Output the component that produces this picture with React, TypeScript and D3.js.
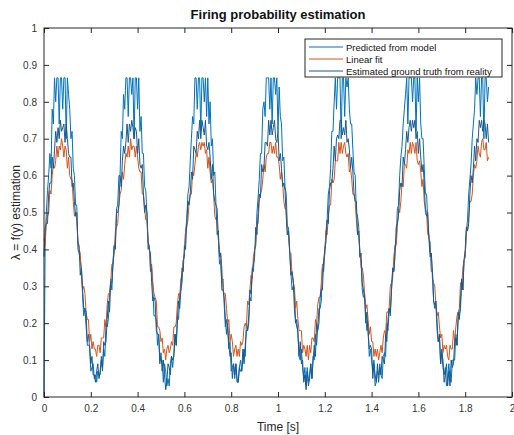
import React, { useEffect, useRef } from 'react';
import * as d3 from 'd3';

// sampling step of the recordings [s]
const dt = 0.005;

// Predicted from model (saturates at ~0.865)
const predicted = [
  0, .42, .50, .56, .60, .66, .62, .78, .74, .865, .80, .865, .865, .74, .865, .865, .78, .865, .865, .70, .865, .82, .78, .70, .72, .62,
  .60, .52, .52, .40, .39, .37, .35, .27, .22, .24, .19, .15, .17, .13, .07, .08, .09, .05, .06, .04, .07, .06, .06, .11, .08, .13, .11, .20, .19, .21, .27, .32, .29, .37,
  .41, .42, .51, .52, .60, .60, .72, .70, .82, .78, .865, .865, .76, .865, .865, .82, .865, .70, .865, .865, .78, .865, .72, .76, .66, .66,
  .57, .56, .49, .40, .41, .34, .35, .30, .22, .22, .21, .14, .17, .10, .10, .10, .04, .09, .07, .03, .05, .03, .09, .11, .08, .12, .17, .14, .21, .21, .28, .29, .31, .37,
  .38, .45, .48, .55, .57, .64, .70, .76, .74, .865, .865, .78, .865, .865, .72, .865, .865, .80, .865, .76, .865, .74, .80, .68, .70, .60,
  .61, .52, .51, .43, .36, .37, .31, .32, .25, .19, .21, .18, .13, .15, .07, .08, .09, .05, .09, .05, .04, .08, .10, .07, .10, .13, .11, .20, .18, .22, .27, .26, .35, .34,
  .40, .41, .50, .54, .59, .66, .66, .78, .80, .76, .865, .865, .865, .78, .865, .74, .865, .865, .82, .865, .72, .84, .76, .74, .64, .65,
  .57, .55, .46, .46, .39, .34, .29, .30, .28, .21, .19, .18, .11, .10, .13, .08, .05, .08, .03, .08, .04, .06, .09, .05, .11, .10, .17, .14, .19, .24, .24, .26, .35, .34,
  .39, .45, .48, .55, .57, .62, .72, .72, .80, .865, .78, .865, .865, .865, .70, .865, .865, .76, .865, .84, .865, .78, .74, .74, .67, .61,
  .60, .50, .49, .46, .38, .37, .29, .27, .28, .22, .18, .20, .11, .13, .10, .07, .10, .03, .04, .07, .06, .09, .06, .05, .11, .12, .11, .20, .18, .24, .22, .29, .34, .34,
  .41, .42, .51, .52, .60, .65, .68, .74, .78, .82, .865, .74, .865, .865, .865, .80, .865, .865, .72, .865, .80, .865, .74, .70, .70, .62,
  .55, .55, .48, .43, .42, .34, .34, .26, .25, .25, .18, .15, .16, .09, .13, .08, .06, .08, .03, .05, .09, .05, .04, .10, .10, .10, .17, .14, .21, .22, .24, .32, .29, .37,
  .38, .45, .48, .55, .59, .63, .70, .74, .78, .865, .82, .865, .865, .76, .865, .865, .70, .865, .865, .80, .84,
];

// Linear fit
const linearFit = [
  .43, .41, .48, .49, .50, .56, .55, .60, .63, .62, .64, .68, .65, .68, .67, .70, .68, .65, .68, .67,
  .62, .65, .60, .59, .59, .53, .49, .50, .48, .42, .40, .39, .33, .29, .30, .28, .23, .21, .21, .15,
  .17, .13, .15, .13, .13, .11, .14, .14, .12, .16, .16, .16, .21, .19, .25, .28, .28, .31, .36, .36,
  .39, .45, .46, .47, .52, .55, .56, .61, .59, .63, .66, .65, .68, .65, .70, .67, .68, .68, .65, .68,
  .65, .62, .61, .61, .55, .55, .51, .48, .48, .42, .41, .35, .36, .31, .28, .27, .26, .19, .19, .18,
  .15, .16, .12, .13, .10, .13, .14, .12, .13, .15, .14, .19, .19, .20, .25, .28, .27, .32, .33, .37,
  .39, .45, .46, .48, .53, .55, .55, .61, .60, .63, .66, .65, .68, .69, .67, .69, .68, .69, .66, .67,
  .62, .65, .61, .58, .59, .55, .49, .48, .48, .43, .39, .39, .35, .29, .28, .28, .24, .20, .21, .15,
  .17, .15, .11, .13, .14, .11, .13, .11, .15, .14, .15, .19, .20, .19, .26, .25, .29, .33, .32, .38,
  .40, .42, .47, .47, .53, .55, .56, .59, .63, .61, .65, .66, .66, .69, .69, .66, .68, .66, .69, .65,
  .65, .63, .59, .61, .58, .53, .51, .51, .44, .44, .39, .39, .33, .31, .30, .24, .26, .21, .18, .18,
  .18, .12, .14, .13, .11, .14, .10, .14, .12, .16, .16, .15, .21, .20, .25, .27, .27, .31, .36, .36,
  .39, .45, .44, .49, .52, .52, .59, .58, .59, .64, .64, .64, .69, .66, .69, .66, .68, .69, .66, .65,
  .66, .61, .62, .59, .55, .55, .53, .48, .44, .44, .40, .35, .35, .33, .28, .24, .25, .21, .17, .19,
  .15, .15, .11, .13, .11, .13, .10, .12, .14, .12, .16, .18, .17, .23, .23, .24, .30, .31, .32, .38,
  .41, .41, .46, .51, .50, .53, .58, .57, .63, .63, .62, .67, .66, .69, .66, .69, .68, .66, .69, .64,
  .63, .64, .61, .57, .59, .53, .51, .50, .44, .44, .39, .39, .32, .31, .30, .25, .22, .23, .19, .16,
  .17, .12, .14, .13, .14, .11, .10, .14, .13, .13, .18, .15, .19, .22, .23, .24, .31, .30, .35, .37,
  .38, .45, .45, .49, .53, .53, .55, .60, .63, .62, .64, .68, .66, .65, .69, .70, .67, .67, .69, .64,
  .65,
];

// Estimated ground truth from reality
const groundTruth = [
  .38, .46, .47, .47, .55, .58, .58, .65, .62, .67, .72, .69, .73, .70, .75, .72, .73, .74, .69, .74,
  .70, .66, .65, .65, .57, .58, .53, .49, .50, .42, .41, .33, .35, .29, .24, .24, .23, .14, .14, .14,
  .09, .11, .06, .06, .04, .07, .09, .05, .07, .10, .07, .15, .14, .15, .21, .26, .23, .31, .31, .36,
  .41, .40, .50, .50, .52, .60, .57, .64, .68, .66, .69, .74, .69, .74, .72, .75, .73, .70, .73, .72,
  .66, .70, .63, .62, .63, .55, .50, .52, .50, .42, .40, .39, .31, .26, .27, .26, .18, .17, .17, .09,
  .12, .07, .10, .06, .02, .04, .09, .08, .06, .11, .10, .11, .17, .14, .21, .26, .24, .29, .35, .34,
  .41, .40, .47, .53, .52, .55, .61, .59, .68, .67, .66, .72, .70, .75, .70, .75, .73, .71, .75, .68,
  .67, .69, .65, .59, .63, .55, .53, .52, .44, .45, .38, .39, .29, .29, .27, .21, .17, .20, .14, .11,
  .12, .05, .09, .06, .09, .04, .04, .08, .07, .07, .13, .09, .14, .18, .18, .20, .29, .28, .34, .36,
  .38, .46, .44, .50, .55, .54, .63, .61, .62, .69, .69, .68, .75, .71, .75, .71, .73, .75, .70, .69,
  .72, .64, .66, .62, .57, .58, .56, .49, .44, .45, .40, .33, .34, .32, .24, .20, .21, .17, .11, .15,
  .09, .10, .04, .06, .02, .07, .03, .05, .09, .05, .10, .14, .11, .20, .18, .20, .27, .29, .29, .37,
  .40, .42, .48, .47, .56, .58, .58, .62, .68, .64, .70, .71, .70, .75, .75, .71, .73, .71, .75, .69,
  .70, .67, .62, .65, .61, .55, .53, .53, .44, .45, .38, .39, .31, .29, .27, .20, .23, .17, .13, .14,
  .13, .05, .09, .06, .04, .09, .04, .08, .06, .11, .10, .09, .17, .15, .21, .24, .23, .29, .35, .34,
  .38, .46, .47, .49, .56, .58, .57, .65, .63, .67, .72, .69, .73, .75, .72, .75, .73, .75, .70, .72,
  .66, .70, .65, .61, .63, .58, .50, .49, .50, .43, .38, .39, .34, .26, .24, .26, .20, .15, .17, .09,
  .12, .10, .04, .06, .09, .03, .07, .03, .10, .08, .09, .15, .16, .14, .23, .21, .26, .32, .29, .37,
  .40, .46, .45, .47, .55, .60, .58, .62, .68, .64, .70, .69, .75, .73, .75, .72, .75, .74, .70, .74,
  .69,
];

const xTicks = [0, 0.2, 0.4, 0.6, 0.8, 1, 1.2, 1.4, 1.6, 1.8, 2];
const yTicks = [0, 0.1, 0.2, 0.3, 0.4, 0.5, 0.6, 0.7, 0.8, 0.9, 1];

const seriesNames = ['Predicted from model', 'Linear fit', 'Estimated ground truth from reality'];
const seriesColors = ['#0072BD', '#D95319', '#165a94'];

const width = 514;
const height = 435;
const margin = { left: 44, right: 2, top: 28, bottom: 38 };
const font = '"Liberation Sans", Arial, Helvetica, sans-serif';
const axisColor = '#262626';

export default function App() {
  const ref = useRef<SVGSVGElement>(null);

  useEffect(() => {
    const svg = d3.select(ref.current);
    svg.selectAll('*').remove();

    const x = d3.scaleLinear().domain([0, 2]).range([margin.left, width - margin.right]);
    const y = d3.scaleLinear().domain([0, 1]).range([height - margin.bottom, margin.top]);
    const x0 = margin.left;
    const x1 = width - margin.right;
    const y0 = height - margin.bottom;
    const y1 = margin.top;

    const data = [predicted, linearFit, groundTruth];
    const line = d3
      .line<number>()
      .x((d, i) => x(i * dt))
      .y((d) => y(d));

    const plot = svg.append('g');
    data.forEach((values, k) => {
      plot
        .append('path')
        .datum(values)
        .attr('fill', 'none')
        .attr('stroke', seriesColors[k])
        .attr('stroke-width', 1)
        .attr('stroke-linejoin', 'round')
        .attr('d', line);
    });

    // axes: MATLAB style, ticks pointing inwards on all four sides
    const fmt = (d: d3.NumberValue) => String(+d);
    svg
      .append('g')
      .attr('transform', `translate(0,${y0})`)
      .call(d3.axisBottom(x).tickValues(xTicks).tickFormat(fmt).tickSizeInner(-5).tickSizeOuter(0).tickPadding(8));
    svg
      .append('g')
      .attr('transform', `translate(0,${y1})`)
      .call(d3.axisTop(x).tickValues(xTicks).tickFormat(() => '').tickSizeInner(-5).tickSizeOuter(0));
    svg
      .append('g')
      .attr('transform', `translate(${x0},0)`)
      .call(d3.axisLeft(y).tickValues(yTicks).tickFormat(fmt).tickSizeInner(-5).tickSizeOuter(0).tickPadding(7));
    svg
      .append('g')
      .attr('transform', `translate(${x1},0)`)
      .call(d3.axisRight(y).tickValues(yTicks).tickFormat(() => '').tickSizeInner(-5).tickSizeOuter(0));

    svg.selectAll('.domain').remove();
    svg.selectAll('.tick line').attr('stroke', axisColor);
    svg
      .selectAll('.tick text')
      .attr('fill', '#333')
      .style('font-family', font)
      .style('font-size', '10px');

    svg
      .append('rect')
      .attr('x', x0)
      .attr('y', y1)
      .attr('width', x1 - x0)
      .attr('height', y0 - y1)
      .attr('fill', 'none')
      .attr('stroke', axisColor)
      .attr('stroke-width', 1);

    // title and axis labels
    svg
      .append('text')
      .attr('x', (x0 + x1) / 2)
      .attr('y', 19)
      .attr('text-anchor', 'middle')
      .style('font-family', font)
      .style('font-size', '13px')
      .style('font-weight', 'bold')
      .attr('fill', '#111')
      .text('Firing probability estimation');

    svg
      .append('text')
      .attr('x', (x0 + x1) / 2)
      .attr('y', 431)
      .attr('text-anchor', 'middle')
      .style('font-family', font)
      .style('font-size', '12px')
      .attr('fill', '#262626')
      .text('Time [s]');

    svg
      .append('text')
      .attr('transform', `translate(20,${(y0 + y1) / 2}) rotate(-90)`)
      .attr('text-anchor', 'middle')
      .style('font-family', font)
      .style('font-size', '12px')
      .attr('fill', '#262626')
      .text('λ = f(y) estimation');

    // legend
    const legend = svg.append('g').attr('transform', 'translate(305,39)');
    legend
      .append('rect')
      .attr('width', 197)
      .attr('height', 38)
      .attr('fill', '#fff')
      .attr('stroke', axisColor)
      .attr('stroke-width', 1);
    seriesNames.forEach((name, k) => {
      const ly = 8 + k * 12;
      legend
        .append('line')
        .attr('x1', 4)
        .attr('x2', 38)
        .attr('y1', ly)
        .attr('y2', ly)
        .attr('stroke', seriesColors[k])
        .attr('stroke-width', 1.1);
      legend
        .append('text')
        .attr('x', 41)
        .attr('y', ly + 3.5)
        .style('font-family', font)
        .style('font-size', '9.5px')
        .attr('fill', '#111')
        .text(name);
    });
  }, []);

  return <svg ref={ref} width={width} height={height} style={{ position: 'absolute', left: 0, top: 0 }} />;
}
